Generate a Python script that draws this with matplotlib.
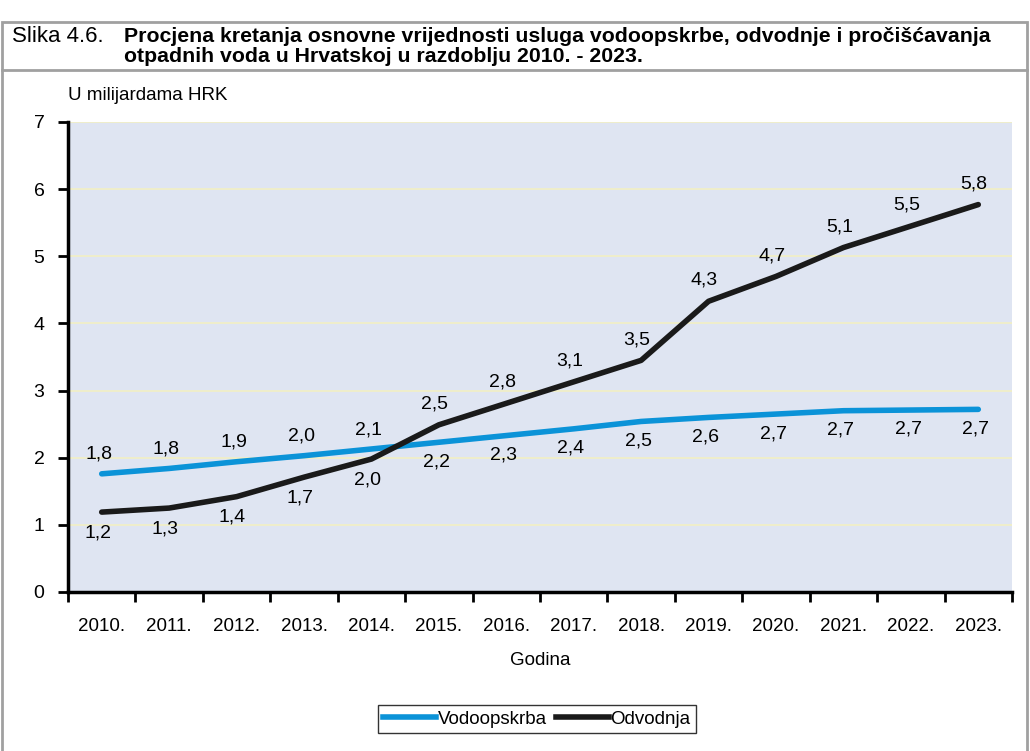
import matplotlib.pyplot as plt
from matplotlib.patches import Rectangle
from matplotlib.lines import Line2D
from matplotlib import font_manager

# pick a narrow font if there is one
names = set(f.name for f in font_manager.fontManager.ttflist)
fam = 'Liberation Sans Narrow' if 'Liberation Sans Narrow' in names else 'Liberation Sans'
plt.rcParams['font.family'] = [fam, 'DejaVu Sans']

years = ['2010.', '2011.', '2012.', '2013.', '2014.', '2015.', '2016.',
         '2017.', '2018.', '2019.', '2020.', '2021.', '2022.', '2023.']
vodo = [1.76, 1.84, 1.94, 2.03, 2.13, 2.23, 2.33, 2.43, 2.54, 2.60, 2.65, 2.70, 2.71, 2.72]
odvo = [1.19, 1.25, 1.42, 1.71, 1.98, 2.49, 2.81, 3.13, 3.45, 4.33, 4.70, 5.13, 5.45, 5.77]
vodo_lbl = ['1,8', '1,8', '1,9', '2,0', '2,1', '2,2', '2,3', '2,4', '2,5', '2,6', '2,7', '2,7', '2,7', '2,7']
odvo_lbl = ['1,2', '1,3', '1,4', '1,7', '2,0', '2,5', '2,8', '3,1', '3,5', '4,3', '4,7', '5,1', '5,5', '5,8']

W, H = 1030, 751
fig = plt.figure(figsize=(W / 100, H / 100), dpi=100)

# frame and title band
gray = '#a0a0a0'
fig.add_artist(Rectangle((2 / W, -0.01), 1025 / W, (H - 22) / H + 0.01, transform=fig.transFigure,
                         fill=False, edgecolor=gray, lw=2))
fig.add_artist(Line2D([2 / W, 1027 / W], [1 - 70 / H] * 2, transform=fig.transFigure, color=gray, lw=2))
fig.text(12 / W, 1 - 36 / H, 'Slika 4.6.', fontsize=16, va='center', ha='left')
fig.text(124 / W, 1 - 36 / H, 'Procjena kretanja osnovne vrijednosti usluga vodoopskrbe, odvodnje i pročišćavanja',
         fontsize=15.3, fontweight='bold', va='center', ha='left')
fig.text(124 / W, 1 - 57 / H, 'otpadnih voda u Hrvatskoj u razdoblju 2010. - 2023.',
         fontsize=15.3, fontweight='bold', va='center', ha='left')

ax = fig.add_axes([68 / W, 1 - 592 / H, (1012 - 68) / W, (592 - 122) / H])
ax.set_facecolor('#dfe5f2')
x = list(range(len(years)))
ax.plot(x, vodo, color='#0b93d8', lw=4, solid_capstyle='round', zorder=3)
ax.plot(x, odvo, color='#1a1a1a', lw=4, solid_capstyle='round', zorder=3)

# labels: first five years the blue is on top, later the black
for i in x:
    if i < 5:
        vo, oo = 14, -15
    else:
        vo, oo = -14, 15
    ax.annotate(vodo_lbl[i], (i, vodo[i]), xytext=(-2, vo), textcoords='offset points',
                ha='center', va='center', fontsize=14)
    ax.annotate(odvo_lbl[i], (i, odvo[i]), xytext=(-3, oo), textcoords='offset points',
                ha='center', va='center', fontsize=14)

ax.set_xlim(-0.5, len(years) - 0.5)
ax.set_ylim(0, 7)
ax.set_yticks(range(8))
ax.yaxis.grid(True, color='#f2efc4', lw=1.2)
ax.set_axisbelow(True)
ax.set_xticks([i - 0.5 for i in range(len(years) + 1)], minor=False)
ax.set_xticklabels([])
ax.set_xticks(x, minor=True)
ax.set_xticklabels(years, minor=True, fontsize=13.5)
ax.tick_params(axis='x', which='minor', length=0, pad=19)
ax.tick_params(axis='x', which='major', length=7, width=2, direction='out')
ax.tick_params(axis='y', length=7, width=2, direction='out', labelsize=14, pad=10)
for s in ['top', 'right']:
    ax.spines[s].set_visible(False)
for s in ['left', 'bottom']:
    ax.spines[s].set_linewidth(2.5)
ax.set_xlabel('Godina', fontsize=13.5, labelpad=12)
fig.text(68 / W, 1 - 96 / H, 'U milijardama HRK', fontsize=13.5, va='center', ha='left')

handles = [Line2D([], [], color='#0b93d8', lw=4), Line2D([], [], color='#1a1a1a', lw=4)]
leg = fig.legend(handles, ['Vodoopskrba', 'Odvodnja'], loc='center', bbox_to_anchor=(537 / W, 1 - 719 / H),
                 ncol=2, fontsize=13.5, frameon=True, fancybox=False, edgecolor='black',
                 handlelength=2.8, handletextpad=0.1, columnspacing=0.5, borderpad=0.3)
leg.get_frame().set_linewidth(1)

fig.savefig('out.png', dpi=100)
